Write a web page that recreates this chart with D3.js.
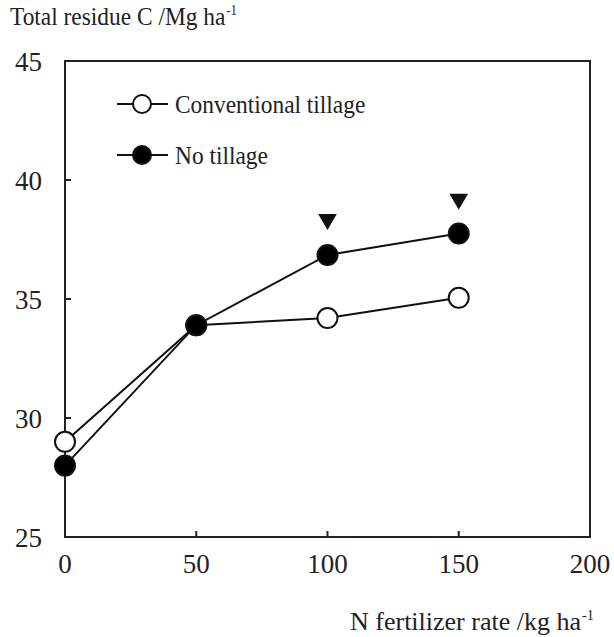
<!DOCTYPE html>
<html>
<head>
<meta charset="utf-8">
<script src="https://cdn.jsdelivr.net/npm/d3@7"></script>
<style>
  body { margin: 0; background: #fff; }
  text { font-family: "Liberation Serif", "Times New Roman", Times, serif; fill: #222; }
</style>
</head>
<body>
<script>
// data
var nRates = [0, 50, 100, 150];
var conventional = [29.0, 33.9, 34.2, 35.05];
var noTillage = [28.0, 33.9, 36.85, 37.75];
var sigRates = [100, 150];
var sigValues = [38.35, 39.2];
var xTicks = [0, 50, 100, 150, 200];
var yTicks = [25, 30, 35, 40, 45];

var width = 614, height = 637;
var plotL = 65, plotR = 590, plotT = 61, plotB = 537;

var svg = d3.select("body").append("svg")
  .attr("width", width).attr("height", height);

var x = d3.scaleLinear().domain([0, 200]).range([plotL, plotR]);
var y = d3.scaleLinear().domain([25, 45]).range([plotB, plotT]);

// frame
svg.append("rect")
  .attr("x", plotL).attr("y", plotT)
  .attr("width", plotR - plotL).attr("height", plotB - plotT)
  .attr("fill", "none").attr("stroke", "#222").attr("stroke-width", 2);

// inward ticks
svg.selectAll(".yt").data(yTicks.slice(1, -1)).enter().append("line")
  .attr("x1", plotL).attr("x2", plotL + 6)
  .attr("y1", function(d) { return y(d); }).attr("y2", function(d) { return y(d); })
  .attr("stroke", "#222").attr("stroke-width", 2);
svg.selectAll(".xt").data(xTicks.slice(1, -1)).enter().append("line")
  .attr("x1", function(d) { return x(d); }).attr("x2", function(d) { return x(d); })
  .attr("y1", plotB).attr("y2", plotB - 6)
  .attr("stroke", "#222").attr("stroke-width", 2);

// tick labels
svg.selectAll(".yl").data(yTicks).enter().append("text")
  .attr("x", 42).attr("y", function(d) { return y(d) + 1; })
  .attr("dy", "0.35em").attr("text-anchor", "end")
  .attr("font-size", 27).text(function(d) { return d; });
svg.selectAll(".xl").data(xTicks).enter().append("text")
  .attr("x", function(d) { return x(d); }).attr("y", 573)
  .attr("text-anchor", "middle")
  .attr("font-size", 27).text(function(d) { return d; });

// text squeezed/stretched horizontally like the scanned figure
function label(px, py, sx, size, main, sup) {
  var t = svg.append("text")
    .attr("transform", "translate(" + px + "," + py + ") scale(" + sx + ",1)")
    .attr("font-size", size);
  t.append("tspan").text(main);
  if (sup) t.append("tspan").attr("font-size", size * 0.55).attr("dx", 1).attr("dy", -size * 0.38).text(sup);
  return t;
}

// axis titles
label(10, 25, 0.9, 26, "Total residue C /Mg ha", "-1");
label(350, 630, 1.0, 26, "N fertilizer rate /kg ha", "-1");

var line = d3.line()
  .x(function(d, i) { return x(nRates[i]); })
  .y(function(d) { return y(d); });

var series = [
  { name: "Conventional tillage", values: conventional, fill: "#fff" },
  { name: "No tillage", values: noTillage, fill: "#000" }
];

series.forEach(function(s) {
  svg.append("path").datum(s.values)
    .attr("d", line).attr("fill", "none")
    .attr("stroke", "#111").attr("stroke-width", 2);
});
series.forEach(function(s) {
  svg.selectAll(null).data(s.values).enter().append("circle")
    .attr("cx", function(d, i) { return x(nRates[i]); })
    .attr("cy", function(d) { return y(d); })
    .attr("r", 10)
    .attr("fill", s.fill).attr("stroke", "#111").attr("stroke-width", 2);
});

// significance triangles
svg.selectAll(".tri").data(sigValues).enter().append("path")
  .attr("d", d3.symbol().type(d3.symbolTriangle).size(150))
  .attr("transform", function(d, i) {
    return "translate(" + x(sigRates[i]) + "," + y(d) + ") rotate(180)";
  })
  .attr("fill", "#111");

// legend
series.forEach(function(s, i) {
  var ly = 104 + i * 51;
  svg.append("line").attr("x1", 117).attr("x2", 168)
    .attr("y1", ly).attr("y2", ly)
    .attr("stroke", "#111").attr("stroke-width", 2);
  svg.append("circle").attr("cx", 142).attr("cy", ly).attr("r", 9)
    .attr("fill", s.fill).attr("stroke", "#111").attr("stroke-width", 2);
  label(175, ly + 9, 0.9, 26, s.name);
});
</script>
</body>
</html>
